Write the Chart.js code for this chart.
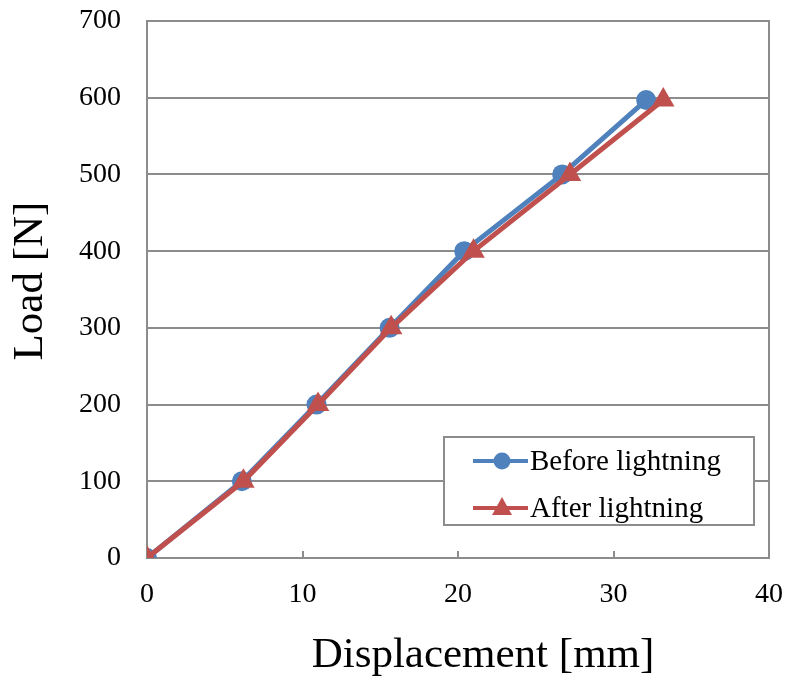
<!DOCTYPE html>
<html>
<head>
<meta charset="utf-8">
<script src="https://cdn.jsdelivr.net/npm/chart.js@4/dist/chart.umd.min.js"></script>
<style>
	html, body { margin: 0; padding: 0; background: #fff; }
	#wrap { width: 789px; height: 686px; }
</style>
</head>
<body>
<div id="wrap"><canvas id="chart" width="789" height="686"></canvas></div>
<script>
// values
var beforeX = [0, 6.1, 10.9, 15.6, 20.4, 26.7, 32.1];
var beforeY = [0, 100, 200, 300, 400, 500, 597];
var afterX = [0, 6.2, 11.0, 15.7, 21.0, 27.2, 33.2];
var afterY = [0, 100, 200, 300, 400, 500, 597];
var xTicks = [0, 10, 20, 30, 40];
var yTicks = [0, 100, 200, 300, 400, 500, 600, 700];
var seriesNames = ['Before lightning', 'After lightning'];
var xTitle = 'Displacement [mm]';
var yTitle = 'Load [N]';

var blue = '#4f81bd';
var red = '#c0504d';
var gray = '#8c8c8c';
var serif = '"Liberation Serif", "Times New Roman", serif';

function toPoints(xs, ys) {
	return xs.map(function (x, i) { return { x: x, y: ys[i] }; });
}

/* frame, inside tick marks, axis titles and the framed legend */
var extras = {
	id: 'extras',
	beforeDatasetsDraw: function (chart) {
		var ctx = chart.ctx;
		var a = chart.chartArea;
		ctx.save();
		ctx.strokeStyle = gray;
		ctx.lineWidth = 2;
		ctx.strokeRect(a.left, a.top, a.right - a.left, a.bottom - a.top);
		xTicks.forEach(function (v) {
			var px = Math.round(chart.scales.x.getPixelForValue(v));
			ctx.beginPath();
			ctx.moveTo(px, a.bottom);
			ctx.lineTo(px, a.bottom - 7);
			ctx.stroke();
		});
		ctx.restore();
	},
	afterDatasetsDraw: function (chart) {
		var ctx = chart.ctx;
		ctx.save();

		// axis titles
		ctx.fillStyle = '#000';
		ctx.font = '43px ' + serif;
		ctx.textAlign = 'center';
		ctx.textBaseline = 'middle';
		ctx.fillText(xTitle, 483, 656);
		ctx.save();
		ctx.translate(31, 281);
		ctx.rotate(-Math.PI / 2);
		ctx.fillText(yTitle, 0, 0);
		ctx.restore();

		// legend box
		var bx = 444, by = 437, bw = 310, bh = 88;
		ctx.fillStyle = '#fff';
		ctx.strokeStyle = gray;
		ctx.lineWidth = 2;
		ctx.fillRect(bx, by, bw, bh);
		ctx.strokeRect(bx, by, bw, bh);

		var rows = [
			{ color: blue, shape: 'circle', y: 461 },
			{ color: red, shape: 'triangle', y: 508 }
		];
		ctx.font = '29px ' + serif;
		ctx.textAlign = 'left';
		rows.forEach(function (r, i) {
			ctx.strokeStyle = r.color;
			ctx.fillStyle = r.color;
			ctx.lineWidth = 4;
			ctx.beginPath();
			ctx.moveTo(473, r.y);
			ctx.lineTo(528, r.y);
			ctx.stroke();
			ctx.beginPath();
			if (r.shape === 'circle') {
				ctx.arc(502, r.y, 8.5, 0, Math.PI * 2);
			} else {
				ctx.moveTo(502, r.y - 11);
				ctx.lineTo(512, r.y + 7);
				ctx.lineTo(492, r.y + 7);
				ctx.closePath();
			}
			ctx.fill();
			ctx.fillStyle = '#000';
			ctx.fillText(seriesNames[i], 530, r.y + 1);
		});
		ctx.restore();
	}
};

new Chart(document.getElementById('chart'), {
	type: 'scatter',
	data: {
		datasets: [{
			label: seriesNames[0],
			data: toPoints(beforeX, beforeY),
			showLine: true,
			borderColor: blue,
			backgroundColor: blue,
			borderWidth: 5,
			pointBorderWidth: 0,
			pointStyle: 'circle',
			pointRadius: 10,
			pointHoverRadius: 10,
			order: 1
		}, {
			label: seriesNames[1],
			data: toPoints(afterX, afterY),
			showLine: true,
			borderColor: red,
			backgroundColor: red,
			borderWidth: 5,
			pointBorderWidth: 0,
			pointStyle: 'triangle',
			pointRadius: 13,
			pointHoverRadius: 13,
			order: 0
		}]
	},
	options: {
		responsive: false,
		animation: false,
		layout: { padding: { top: 21, right: 20, left: 0, bottom: 0 } },
		plugins: {
			legend: { display: false },
			tooltip: { enabled: false }
		},
		scales: {
			x: {
				type: 'linear',
				min: 0,
				max: 40,
				afterBuildTicks: function (s) { s.ticks = xTicks.map(function (v) { return { value: v }; }); },
				afterFit: function (s) {
					s.height = 128;
					s.paddingLeft = 0;
					s.paddingRight = 0;
				},
				grid: { display: false, drawTicks: false },
				border: { display: false },
				ticks: {
					color: '#000',
					padding: 20,
					maxRotation: 0,
					font: { family: serif, size: 28 }
				}
			},
			y: {
				type: 'linear',
				min: 0,
				max: 700,
				afterBuildTicks: function (s) { s.ticks = yTicks.map(function (v) { return { value: v }; }); },
				afterFit: function (s) {
					s.width = 147;
					s.paddingTop = 0;
					s.paddingBottom = 0;
				},
				grid: { color: gray, lineWidth: 2, drawTicks: false },
				border: { display: false },
				ticks: {
					color: '#000',
					padding: 26,
					font: { family: serif, size: 28 }
				}
			}
		}
	},
	plugins: [extras]
});
</script>
</body>
</html>
